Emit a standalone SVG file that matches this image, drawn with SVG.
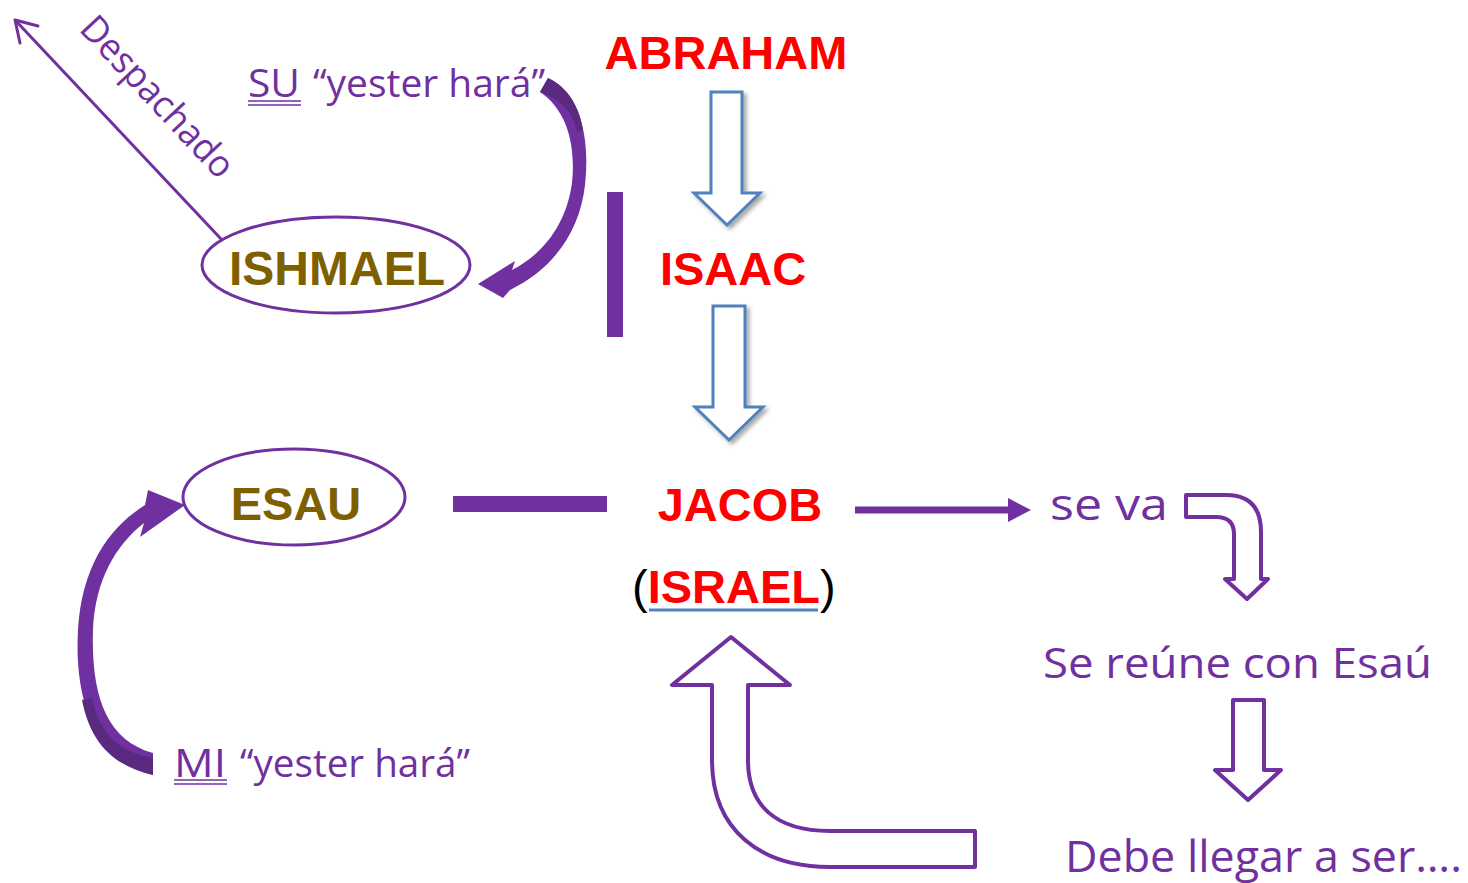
<svg xmlns="http://www.w3.org/2000/svg" width="1468" height="883" viewBox="0 0 1468 883">
<style>
.bold{font-family:"Liberation Sans",Arial,sans-serif;font-weight:bold}
.red{fill:#FF0000}
.gold{fill:#7F6000}
.hand{font-family:"Open Sans","DejaVu Sans",sans-serif;fill:#7030A0}
.oval{fill:#FFFFFF;stroke:#7030A0;stroke-width:3}
.blue{fill:#FFFFFF;stroke:#4F81BD;stroke-width:3;stroke-linejoin:miter}
.hollow{fill:#FFFFFF;stroke:#7030A0;stroke-width:4;stroke-linejoin:round}
.solid{fill:#7030A0}
.uline{stroke:#7030A0;stroke-width:1.6}
</style>
<defs>
<filter id="sh" x="-30%" y="-30%" width="160%" height="160%">
<feDropShadow dx="3" dy="3" stdDeviation="2" flood-color="#000" flood-opacity="0.35"/>
</filter>
</defs>
<rect width="1468" height="883" fill="#FFFFFF"/>

<g id="connectors">
<line id="despachado-line" x1="222" y1="240" x2="15" y2="20" stroke="#7030A0" stroke-width="3"/>
<path d="M15 20 L38 26 M15 20 L20 43" fill="none" stroke="#7030A0" stroke-width="3" stroke-linecap="round"/>
<path id="su-arrow" class="solid" d="M548 78 C582 95 590 140 585 185 C580 230 555 268 510 290 L503 298 L478 284 L515 261 L512 270 C547 252 567 220 572 183 C576 145 567 110 540 92 Z"/>
<path d="M548 78 C570 88 580 110 583 130 L577 132 C573 112 560 98 540 92 Z" fill="#5A2A80"/>
<path id="mi-arrow" class="solid" d="M153 775 C95 762 74 700 78 630 C82 565 110 527 145 505 L148 490 L185 505 L140 537 L144 523 C116 545 95 580 93 630 C91 695 106 740 153 753 Z"/>
<path d="M153 775 C110 765 90 740 82 700 L92 698 C100 735 120 752 153 758 Z" fill="#5A2A80"/>
<rect id="bar-vertical" x="607" y="192" width="16" height="145" class="solid"/>
<rect id="bar-horizontal" x="453" y="496" width="154" height="16" class="solid"/>
<polygon id="arrow-ab-is" class="blue" filter="url(#sh)" points="711,92 742,92 742,193 760,193 727,225 694,193 711,193"/>
<polygon id="arrow-is-ja" class="blue" filter="url(#sh)" points="713,306 745,306 745,407 763,407 729,440 695,407 713,407"/>
<line x1="855" y1="510" x2="1012" y2="510" stroke="#7030A0" stroke-width="7"/>
<polygon class="solid" points="1008,498 1031,510 1008,522"/>
<path id="arrow-seva" class="hollow" d="M1186 495 L1226 495 Q1261 495 1261 532 L1261 579 L1268 579 L1247 599 L1225 579 L1234 579 L1234 534 Q1234 517 1216 517 L1186 517 Z"/>
<polygon id="arrow-reune" class="hollow" points="1233,700 1264,700 1264,770 1281,770 1248,800 1215,770 1233,770"/>
<path id="arrow-uturn" class="hollow" d="M975 831 L830 831 C775 831 748 805 748 760 L748 685 L790 685 L731 637 L672 685 L712 685 L712 760 C712 830 760 867 830 867 L975 867 Z"/>
</g>

<g id="node-abraham"><text class="bold red" x="726" y="69" font-size="47" text-anchor="middle">ABRAHAM</text></g>
<g id="node-isaac"><text class="bold red" x="733" y="285" font-size="47" text-anchor="middle">ISAAC</text></g>
<g id="node-jacob"><text class="bold red" x="740" y="521" font-size="47" text-anchor="middle">JACOB</text></g>
<g id="node-israel">
<text x="632" y="603" font-size="47" font-family="Liberation Sans,Arial,sans-serif" fill="#000">(<tspan class="bold red">ISRAEL</tspan>)</text>
<line x1="649" y1="610" x2="818" y2="610" stroke="#4F81BD" stroke-width="3"/>
</g>
<g id="node-ishmael">
<ellipse class="oval" cx="336" cy="265" rx="134" ry="48"/>
<text class="bold gold" x="337" y="285" font-size="48" text-anchor="middle">ISHMAEL</text>
</g>
<g id="node-esau">
<ellipse class="oval" cx="294" cy="497" rx="111" ry="48"/>
<text class="bold gold" x="296" y="520" font-size="47" text-anchor="middle">ESAU</text>
</g>
<g id="label-despachado">
<text class="hand" transform="translate(78,30) rotate(47)" font-size="37" textLength="206" lengthAdjust="spacingAndGlyphs">Despachado</text>
</g>
<g id="label-su">
<text class="hand" x="248" y="97" font-size="38" textLength="52" lengthAdjust="spacingAndGlyphs">SU</text>
<line class="uline" x1="248" y1="101" x2="301" y2="101"/>
<line class="uline" x1="248" y1="105" x2="301" y2="105"/>
<text class="hand" x="313" y="97" font-size="38" textLength="232" lengthAdjust="spacingAndGlyphs">“yester hará”</text>
</g>
<g id="label-mi">
<text class="hand" x="174" y="777" font-size="38" textLength="52" lengthAdjust="spacingAndGlyphs">MI</text>
<line class="uline" x1="174" y1="780" x2="227" y2="780"/>
<line class="uline" x1="174" y1="784" x2="227" y2="784"/>
<text class="hand" x="240" y="777" font-size="38" textLength="230" lengthAdjust="spacingAndGlyphs">“yester hará”</text>
</g>
<g id="node-seva"><text class="hand" x="1050" y="520" font-size="44" textLength="118" lengthAdjust="spacingAndGlyphs">se va</text></g>
<g id="node-reune"><text class="hand" x="1043" y="678" font-size="42" textLength="389" lengthAdjust="spacingAndGlyphs">Se reúne con Esaú</text></g>
<g id="node-debe"><text class="hand" x="1065" y="872" font-size="44" textLength="397" lengthAdjust="spacingAndGlyphs">Debe llegar a ser….</text></g>
</svg>
